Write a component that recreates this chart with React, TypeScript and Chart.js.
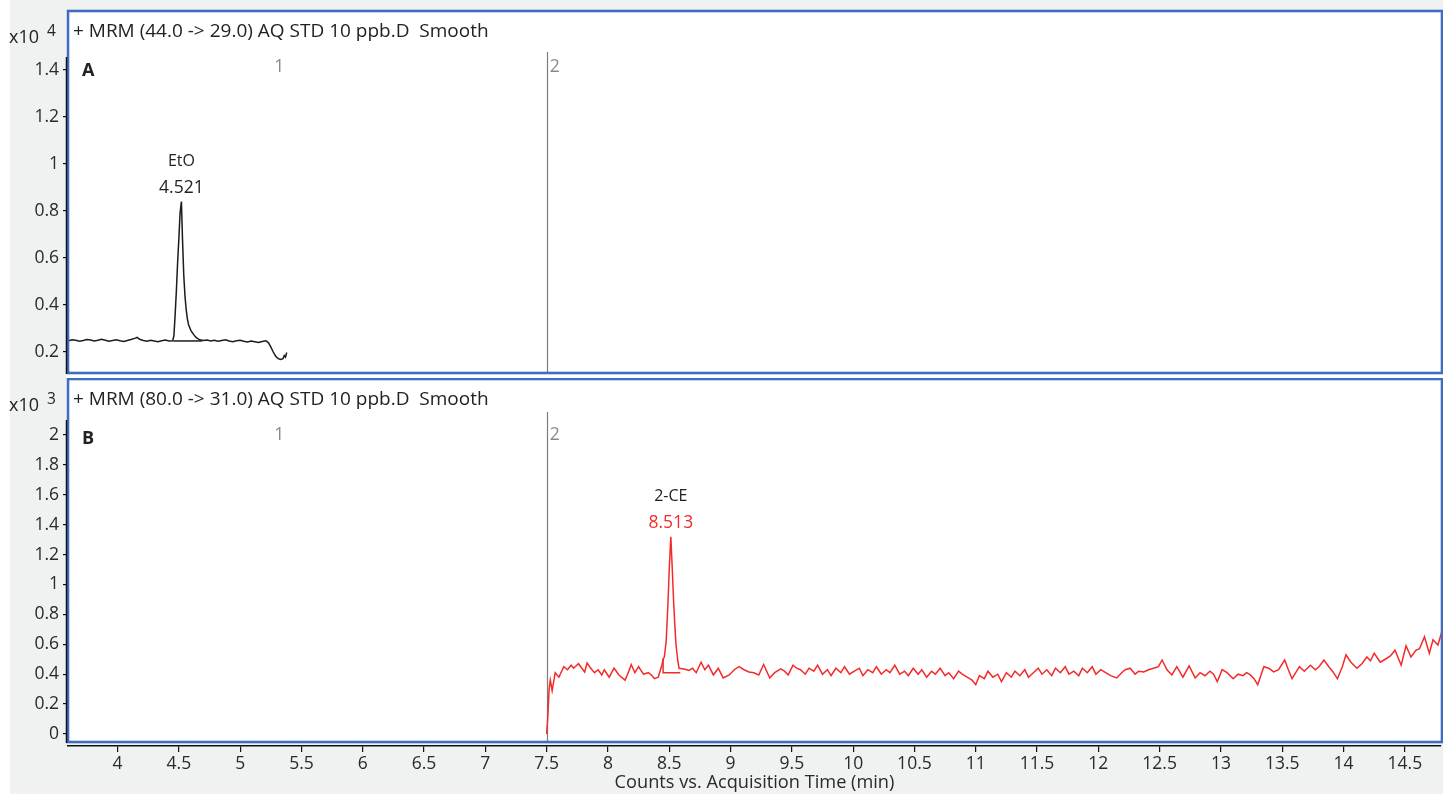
import React, { useEffect, useRef } from 'react';
import { Chart, registerables } from 'chart.js';

Chart.register(...registerables);

// ---------- data ----------
const X_MIN = 3.596;
const X_MAX = 14.795;
const X_TICKS = [4, 4.5, 5, 5.5, 6, 6.5, 7, 7.5, 8, 8.5, 9, 9.5, 10, 10.5, 11, 11.5, 12, 12.5, 13, 13.5, 14, 14.5];
const X_TITLE = 'Counts vs. Acquisition Time (min)';

const Y_TICKS_A = [0.2, 0.4, 0.6, 0.8, 1, 1.2, 1.4];
const Y_RANGE_A = [0.1149, 1.6468];
const Y_TICKS_B = [0, 0.2, 0.4, 0.6, 0.8, 1, 1.2, 1.4, 1.6, 1.8, 2];
const Y_RANGE_B = [-0.0803, 2.368];

// Panel A: EtO trace (x10^4 counts)
const TIME_A = [
  3.60, 3.63, 3.66, 3.69, 3.72, 3.75, 3.78, 3.81, 3.84, 3.87,
  3.90, 3.93, 3.96, 3.99, 4.02, 4.05, 4.08, 4.11, 4.14, 4.16,
  4.18, 4.21, 4.24, 4.27, 4.30, 4.33, 4.36, 4.39, 4.42, 4.45,
  4.46, 4.47, 4.48, 4.49, 4.50, 4.51, 4.521, 4.53, 4.54, 4.55,
  4.56, 4.57, 4.58, 4.60, 4.62, 4.64, 4.67, 4.70, 4.73, 4.76,
  4.79, 4.82, 4.85, 4.88, 4.91, 4.94, 4.97, 5.00, 5.03, 5.06,
  5.09, 5.12, 5.15, 5.18, 5.21, 5.23, 5.25, 5.27, 5.29, 5.31,
  5.33, 5.35, 5.36, 5.37, 5.38,
];
const COUNTS_A = [
  0.248, 0.252, 0.250, 0.246, 0.249, 0.253, 0.251, 0.247, 0.250, 0.254,
  0.250, 0.246, 0.249, 0.252, 0.248, 0.245, 0.249, 0.253, 0.258, 0.262,
  0.254, 0.249, 0.246, 0.250, 0.247, 0.244, 0.248, 0.251, 0.247, 0.248,
  0.27, 0.36, 0.46, 0.58, 0.68, 0.79, 0.84, 0.68, 0.53, 0.44,
  0.38, 0.34, 0.315, 0.29, 0.275, 0.262, 0.252, 0.249, 0.251, 0.247,
  0.250, 0.246, 0.249, 0.252, 0.247, 0.244, 0.248, 0.250, 0.246, 0.243,
  0.247, 0.244, 0.241, 0.245, 0.248, 0.240, 0.222, 0.200, 0.182, 0.172,
  0.168, 0.172, 0.185, 0.178, 0.198,
];
const BASE_A_TIME = [4.455, 4.69];
const BASE_A_COUNTS = [0.247, 0.247];

// Panel B: 2-CE trace (x10^3 counts)
const TIME_B = [
  7.50, 7.51, 7.52, 7.53, 7.545, 7.57, 7.60, 7.64, 7.67, 7.70,
  7.72, 7.76, 7.81, 7.83, 7.86, 7.89, 7.92, 7.95, 7.97, 8.01,
  8.05, 8.09, 8.14, 8.17, 8.19, 8.22, 8.25, 8.29, 8.33, 8.36,
  8.38, 8.41, 8.44, 8.45, 8.46, 8.475, 8.49, 8.50, 8.513, 8.525,
  8.535, 8.545, 8.555, 8.57, 8.58, 8.62, 8.66, 8.69, 8.72, 8.76,
  8.79, 8.82, 8.86, 8.90, 8.94, 8.99, 9.03, 9.07, 9.11, 9.15,
  9.19, 9.23, 9.27, 9.32, 9.36, 9.41, 9.44, 9.47, 9.51, 9.54,
  9.57, 9.61, 9.64, 9.68, 9.71, 9.75, 9.79, 9.82, 9.86, 9.90,
  9.93, 9.97, 10.01, 10.05, 10.08, 10.12, 10.16, 10.19, 10.23, 10.27,
  10.30, 10.34, 10.38, 10.42, 10.45, 10.49, 10.53, 10.56, 10.60, 10.64,
  10.67, 10.71, 10.75, 10.78, 10.82, 10.86, 10.89, 10.93, 10.97, 11.00,
  11.03, 11.07, 11.10, 11.14, 11.18, 11.21, 11.25, 11.29, 11.32, 11.36,
  11.40, 11.43, 11.47, 11.51, 11.54, 11.58, 11.62, 11.65, 11.69, 11.73,
  11.76, 11.80, 11.84, 11.87, 11.91, 11.95, 11.98, 12.02, 12.06, 12.10,
  12.15, 12.19, 12.22, 12.26, 12.30, 12.33, 12.37, 12.41, 12.45, 12.49,
  12.52, 12.56, 12.60, 12.64, 12.69, 12.74, 12.79, 12.83, 12.87, 12.91,
  12.94, 12.97, 13.01, 13.05, 13.10, 13.14, 13.18, 13.21, 13.24, 13.27,
  13.30, 13.35, 13.39, 13.43, 13.47, 13.52, 13.55, 13.58, 13.64, 13.68,
  13.73, 13.77, 13.80, 13.84, 13.88, 13.91, 13.95, 13.99, 14.02, 14.06,
  14.11, 14.15, 14.19, 14.22, 14.25, 14.30, 14.34, 14.38, 14.42, 14.47,
  14.51, 14.55, 14.59, 14.62, 14.66, 14.70, 14.73, 14.77, 14.80,
];
const COUNTS_B = [
  0.00, 0.12, 0.30, 0.36, 0.29, 0.41, 0.38, 0.45, 0.43, 0.46,
  0.44, 0.47, 0.415, 0.475, 0.44, 0.41, 0.43, 0.395, 0.43, 0.38,
  0.44, 0.395, 0.36, 0.42, 0.465, 0.41, 0.45, 0.40, 0.41, 0.39,
  0.37, 0.38, 0.46, 0.50, 0.515, 0.62, 0.88, 1.10, 1.32, 1.10,
  0.90, 0.74, 0.60, 0.49, 0.44, 0.435, 0.425, 0.44, 0.41, 0.48,
  0.43, 0.46, 0.395, 0.44, 0.375, 0.395, 0.43, 0.45, 0.43, 0.415,
  0.41, 0.395, 0.465, 0.375, 0.41, 0.435, 0.42, 0.395, 0.46, 0.44,
  0.43, 0.40, 0.44, 0.42, 0.46, 0.40, 0.43, 0.39, 0.44, 0.41,
  0.45, 0.40, 0.42, 0.44, 0.39, 0.43, 0.41, 0.45, 0.40, 0.43,
  0.41, 0.46, 0.40, 0.42, 0.39, 0.44, 0.40, 0.43, 0.38, 0.42,
  0.40, 0.44, 0.39, 0.41, 0.37, 0.42, 0.40, 0.38, 0.36, 0.33,
  0.39, 0.37, 0.42, 0.38, 0.40, 0.35, 0.41, 0.38, 0.42, 0.39,
  0.43, 0.38, 0.41, 0.44, 0.40, 0.43, 0.39, 0.44, 0.41, 0.45,
  0.40, 0.42, 0.39, 0.44, 0.41, 0.45, 0.40, 0.43, 0.41, 0.39,
  0.375, 0.41, 0.43, 0.44, 0.40, 0.42, 0.415, 0.43, 0.44, 0.45,
  0.495, 0.43, 0.395, 0.45, 0.38, 0.455, 0.375, 0.41, 0.39, 0.42,
  0.40, 0.35, 0.43, 0.41, 0.37, 0.40, 0.39, 0.41, 0.395, 0.37,
  0.33, 0.45, 0.44, 0.415, 0.43, 0.495, 0.43, 0.37, 0.45, 0.42,
  0.46, 0.43, 0.45, 0.495, 0.45, 0.42, 0.37, 0.45, 0.53, 0.48,
  0.44, 0.47, 0.515, 0.49, 0.54, 0.48, 0.50, 0.52, 0.56, 0.46,
  0.59, 0.515, 0.56, 0.57, 0.65, 0.54, 0.63, 0.595, 0.68,
];
const BASE_B_TIME = [8.45, 8.45, 8.59];
const BASE_B_COUNTS = [0.505, 0.41, 0.41];

const SEGMENT_LABELS = ['1', '2'];
const SEGMENT_LABEL_TIMES = [5.32, 7.5];
const SEGMENT_BOUNDARY = 7.5;

const TITLE_A = '+ MRM (44.0 -> 29.0) AQ STD 10 ppb.D  Smooth';
const TITLE_B = '+ MRM (80.0 -> 31.0) AQ STD 10 ppb.D  Smooth';

// ---------- style ----------
const FONT = '"Open Sans", Roboto, sans-serif';
const TEXT = '#222222';
const BLUE = '#3f6dbf';
const RED = '#f42a2a';
const W = 1443;

const pts = (t: number[], v: number[]) => {
  const n = Math.min(t.length, v.length);
  const out: { x: number; y: number }[] = [];
  for (let i = 0; i < n; i++) out.push({ x: t[i], y: v[i] });
  return out;
};

const fmt = (v: number) => String(Number(Number(v).toFixed(2)));

type PanelCfg = {
  id: string;
  title: string;
  exponent: string;
  letter: string;
  peakName: string;
  peakRT: string;
  peakT: number;
  peakV: number;
  rtColor: string;
  borderTop: number;
  borderBottom: number;
  axisTop: number;
  markerTop: number;
};

function panelPlugin(cfg: PanelCfg) {
  return {
    id: cfg.id,
    beforeDatasetsDraw(chart: any) {
      const { ctx, scales } = chart;
      const mx = Math.round(scales.x.getPixelForValue(SEGMENT_BOUNDARY)) + 0.5;
      ctx.save();
      ctx.strokeStyle = '#7c7c7c';
      ctx.lineWidth = 1.2;
      ctx.beginPath();
      ctx.moveTo(mx, cfg.markerTop);
      ctx.lineTo(mx, cfg.borderBottom);
      ctx.stroke();
      ctx.restore();
    },
    afterDraw(chart: any) {
      const { ctx, scales } = chart;
      const xs = scales.x;
      const ys = scales.y;
      ctx.save();
      // blue frame
      ctx.strokeStyle = BLUE;
      ctx.lineWidth = 2.6;
      ctx.strokeRect(68, cfg.borderTop, 1442 - 68, cfg.borderBottom - cfg.borderTop);
      // y axis line
      ctx.strokeStyle = '#111';
      ctx.lineWidth = 1.5;
      ctx.beginPath();
      ctx.moveTo(66.5, cfg.axisTop);
      ctx.lineTo(66.5, cfg.borderBottom + 1);
      ctx.stroke();

      ctx.textBaseline = 'middle';
      // header
      ctx.fillStyle = TEXT;
      ctx.textAlign = 'left';
      ctx.font = `19px ${FONT}`;
      ctx.fillText(cfg.title, 73, cfg.borderTop + 21);
      // x10^n
      ctx.font = `18px ${FONT}`;
      ctx.fillText('x10', 9, cfg.borderTop + 27);
      ctx.font = `15.5px ${FONT}`;
      ctx.fillText(cfg.exponent, 47, cfg.borderTop + 21);
      // panel letter
      ctx.font = `bold 18px ${FONT}`;
      ctx.fillText(cfg.letter, 82, cfg.borderTop + 60);
      // segment labels
      ctx.fillStyle = '#8a8a8a';
      ctx.font = `17.5px ${FONT}`;
      SEGMENT_LABELS.forEach((lab, i) => {
        const t = SEGMENT_LABEL_TIMES[i];
        const px = xs.getPixelForValue(t);
        if (t === SEGMENT_BOUNDARY) {
          ctx.textAlign = 'left';
          ctx.fillText(lab, px + 3, cfg.borderTop + 56);
        } else {
          ctx.textAlign = 'center';
          ctx.fillText(lab, px, cfg.borderTop + 56);
        }
      });
      // peak labels
      const px = xs.getPixelForValue(cfg.peakT);
      const py = ys.getPixelForValue(cfg.peakV);
      ctx.textAlign = 'center';
      ctx.fillStyle = TEXT;
      ctx.font = `16px ${FONT}`;
      ctx.fillText(cfg.peakName, px, py - 40);
      ctx.fillStyle = cfg.rtColor;
      ctx.font = `17.5px ${FONT}`;
      ctx.fillText(cfg.peakRT, px, py - 14);
      ctx.restore();
    },
  };
}

function yScale(range: number[], ticks: number[]) {
  return {
    type: 'linear' as const,
    min: range[0],
    max: range[1],
    afterFit(s: any) {
      s.width = 68;
      s.paddingTop = 0;
      s.paddingBottom = 0;
    },
    afterBuildTicks(s: any) {
      s.ticks = ticks.map((v) => ({ value: v }));
    },
    ticks: {
      autoSkip: false,
      padding: 4,
      color: '#2a2a2a',
      font: { family: FONT, size: 17.5 },
      callback: (v: any) => fmt(v),
    },
    grid: { drawOnChartArea: false, drawTicks: true, tickLength: 5, color: '#111', lineWidth: 1.2 },
    border: { display: false },
  };
}

export default function App() {
  const refA = useRef<HTMLCanvasElement>(null);
  const refB = useRef<HTMLCanvasElement>(null);

  useEffect(() => {
    const charts: Chart[] = [];
    if (refA.current) {
      charts.push(
        new Chart(refA.current, {
          type: 'line',
          data: {
            datasets: [
              { data: pts(TIME_A, COUNTS_A), borderColor: '#1c1c1c', borderWidth: 1.5, pointRadius: 0, tension: 0 },
              { data: pts(BASE_A_TIME, BASE_A_COUNTS), borderColor: '#1c1c1c', borderWidth: 1.5, pointRadius: 0, tension: 0 },
            ],
          },
          options: {
            animation: false,
            responsive: false,
            events: [],
            layout: { padding: { top: 12, right: 2, bottom: 6, left: 0 } },
            plugins: { legend: { display: false }, tooltip: { enabled: false } },
            scales: {
              x: { type: 'linear', display: false, min: X_MIN, max: X_MAX },
              y: yScale(Y_RANGE_A, Y_TICKS_A) as any,
            },
          },
          plugins: [
            panelPlugin({
              id: 'panelA',
              title: TITLE_A,
              exponent: '4',
              letter: 'A',
              peakName: 'EtO',
              peakRT: '4.521',
              peakT: 4.521,
              peakV: 0.84,
              rtColor: TEXT,
              borderTop: 11,
              borderBottom: 373,
              axisTop: 57,
              markerTop: 52,
            }),
          ],
        })
      );
    }
    if (refB.current) {
      charts.push(
        new Chart(refB.current, {
          type: 'line',
          data: {
            datasets: [
              { data: pts(TIME_B, COUNTS_B), borderColor: RED, borderWidth: 1.5, pointRadius: 0, tension: 0 },
              { data: pts(BASE_B_TIME, BASE_B_COUNTS), borderColor: RED, borderWidth: 1.5, pointRadius: 0, tension: 0 },
            ],
          },
          options: {
            animation: false,
            responsive: false,
            events: [],
            layout: { padding: { top: 2, right: 2, bottom: 0, left: 0 } },
            plugins: { legend: { display: false }, tooltip: { enabled: false } },
            scales: {
              x: {
                type: 'linear',
                position: 'bottom',
                min: X_MIN,
                max: X_MAX,
                afterFit(s: any) {
                  s.height = 48;
                  s.paddingLeft = 0;
                  s.paddingRight = 0;
                },
                afterBuildTicks(s: any) {
                  s.ticks = X_TICKS.map((v) => ({ value: v }));
                },
                ticks: {
                  autoSkip: false,
                  maxRotation: 0,
                  minRotation: 0,
                  padding: 2,
                  color: '#2a2a2a',
                  font: { family: FONT, size: 17.5 },
                  callback: (v: any) => fmt(v),
                },
                grid: { drawOnChartArea: false, drawTicks: true, tickLength: 6, color: '#111', lineWidth: 1.2 },
                border: { display: true, color: '#111', width: 1.5 },
                title: {
                  display: true,
                  text: X_TITLE,
                  color: '#2a2a2a',
                  font: { family: FONT, size: 18.2 },
                  padding: { top: 0, bottom: 0 },
                },
              } as any,
              y: yScale(Y_RANGE_B, Y_TICKS_B) as any,
            },
          },
          plugins: [
            panelPlugin({
              id: 'panelB',
              title: TITLE_B,
              exponent: '3',
              letter: 'B',
              peakName: '2-CE',
              peakRT: '8.513',
              peakT: 8.513,
              peakV: 1.32,
              rtColor: RED,
              borderTop: 1,
              borderBottom: 364,
              axisTop: 42,
              markerTop: 34,
            }),
          ],
        })
      );
    }
    return () => {
      charts.forEach((c) => c.destroy());
    };
  }, []);

  return (
    <div style={{ position: 'absolute', left: 0, top: 0, width: W, height: 794, overflow: 'hidden', background: '#ffffff' }}>
      <div style={{ position: 'absolute', left: 10, top: 0, width: W - 10, height: 794, background: '#f0f1f1' }} />
      <div style={{ position: 'absolute', left: 66, top: 10, width: W - 66, height: 733, background: '#ffffff' }} />
      <canvas ref={refA} width={W} height={378} style={{ position: 'absolute', left: 0, top: 0 }} />
      <canvas ref={refB} width={W} height={416} style={{ position: 'absolute', left: 0, top: 378 }} />
    </div>
  );
}
